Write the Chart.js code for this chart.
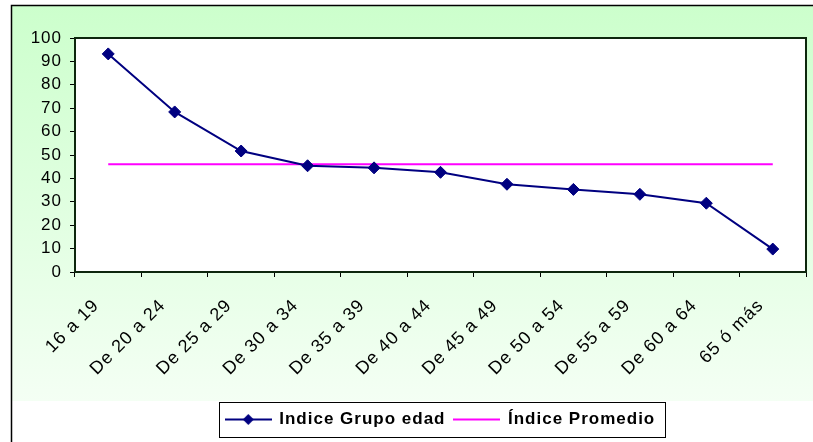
<!DOCTYPE html>
<html>
<head>
<meta charset="utf-8">
<script src="https://cdn.jsdelivr.net/npm/chart.js@4.4.0/dist/chart.umd.min.js"></script>
<style>
html,body{margin:0;padding:0;background:#fff;}
#wrap{width:813px;height:442px;position:relative;}
canvas{display:block;}
</style>
</head>
<body>
<div id="wrap"><canvas id="c" width="813" height="442"></canvas></div>
<script>
// ---- data ----
const categories = ['16 a 19', 'De 20 a 24', 'De 25 a 29', 'De 30 a 34', 'De 35 a 39', 'De 40 a 44', 'De 45 a 49', 'De 50 a 54', 'De 55 a 59', 'De 60 a 64', '65 ó más'];
const indiceGrupoEdad = [93.2, 68.4, 51.7, 45.4, 44.5, 42.6, 37.5, 35.3, 33.2, 29.4, 9.8];
const indicePromedio = [46.1, 46.1, 46.1, 46.1, 46.1, 46.1, 46.1, 46.1, 46.1, 46.1, 46.1];
const seriesNames = ['Indice Grupo edad', 'Índice Promedio'];
const yMin = 0, yMax = 100, yStep = 10;

const FONT = '"Liberation Sans", Arial, sans-serif';
const NAVY = '#000080';
const MAGENTA = '#FF00FF';

// legend samples (line with marker / plain line)
function makeSample(color, withMarker) {
  const c = document.createElement('canvas');
  c.width = 47; c.height = 13;
  const x = c.getContext('2d');
  x.strokeStyle = color; x.lineWidth = 2;
  x.beginPath(); x.moveTo(0, 6.5); x.lineTo(47, 6.5); x.stroke();
  if (withMarker) {
    x.fillStyle = color;
    x.beginPath(); x.moveTo(23.5, 1); x.lineTo(29, 6.5); x.lineTo(23.5, 12); x.lineTo(18, 6.5); x.closePath(); x.fill();
  }
  return c;
}
const samples = [makeSample(NAVY, true), makeSample(MAGENTA, false)];

const decoPlugin = {
  id: 'deco',
  beforeLayout(chart) { chart.ctx.letterSpacing = '1px'; },
  beforeDraw(chart) {
    const ctx = chart.ctx;
    ctx.letterSpacing = '1px';
    ctx.save();
    ctx.fillStyle = '#fff';
    ctx.fillRect(0, 0, chart.width, chart.height);
    const g = ctx.createLinearGradient(0, 6, 0, 401);
    g.addColorStop(0, '#CCFFCC');
    g.addColorStop(1, '#F4FFF4');
    ctx.fillStyle = g;
    ctx.fillRect(12, 6, chart.width - 12, 395);
    ctx.strokeStyle = '#000';
    ctx.lineWidth = 1.5;
    ctx.beginPath();
    ctx.moveTo(11.5, chart.height); ctx.lineTo(11.5, 5.5); ctx.lineTo(chart.width, 5.5);
    ctx.stroke();
    const a = chart.chartArea;
    ctx.fillStyle = '#fff';
    ctx.fillRect(a.left, a.top, a.right - a.left, a.bottom - a.top);
    ctx.restore();
  },
  afterDraw(chart) {
    const ctx = chart.ctx;
    const a = chart.chartArea;
    ctx.save();
    ctx.strokeStyle = '#0d260d';
    ctx.lineWidth = 2;
    ctx.strokeRect(a.left, a.top, a.right - a.left, a.bottom - a.top);
    const lg = chart.legend;
    if (lg && lg.legendHitBoxes && lg.legendHitBoxes.length) {
      const hb = lg.legendHitBoxes;
      const l = hb[0].left - 7;
      const last = hb[hb.length - 1];
      const r = last.left + last.width + 10;
      ctx.strokeStyle = '#000';
      ctx.lineWidth = 1;
      ctx.strokeRect(Math.round(l) + 0.5, lg.top + 0.5, Math.round(r - l), lg.height - 1);
    }
    ctx.restore();
  }
};

new Chart(document.getElementById('c'), {
  type: 'line',
  data: {
    labels: categories,
    datasets: [
      {
        label: seriesNames[0],
        data: indiceGrupoEdad,
        borderColor: NAVY,
        backgroundColor: NAVY,
        borderWidth: 2,
        pointStyle: 'rectRot',
        pointRadius: 6,
        pointBorderWidth: 1,
        pointBackgroundColor: NAVY,
        pointBorderColor: NAVY,
        tension: 0,
        fill: false
      },
      {
        label: seriesNames[1],
        data: indicePromedio,
        borderColor: MAGENTA,
        backgroundColor: MAGENTA,
        borderWidth: 2,
        pointRadius: 0,
        tension: 0,
        fill: false
      }
    ]
  },
  options: {
    responsive: false,
    animation: false,
    devicePixelRatio: 1,
    layout: { padding: { top: 38, left: 0, right: 5, bottom: 4 } },
    plugins: {
      tooltip: { enabled: false },
      legend: {
        position: 'bottom',
        fullSize: false,
        labels: {
          usePointStyle: true,
          pointStyleWidth: 45,
          boxHeight: 15,
          padding: 9,
          color: '#000',
          font: { family: FONT, size: 17, weight: 'bold' },
          generateLabels(chart) {
            return chart.data.datasets.map((ds, i) => ({
              text: ds.label,
              pointStyle: samples[i],
              fillStyle: ds.borderColor,
              strokeStyle: ds.borderColor,
              lineWidth: 1,
              hidden: false,
              datasetIndex: i,
              fontColor: '#000'
            }));
          }
        }
      }
    },
    scales: {
      x: {
        offset: true,
        grid: { display: true, offset: true, drawOnChartArea: false, drawTicks: true, tickLength: 5, color: '#000', lineWidth: 1 },
        border: { display: false },
        ticks: {
          color: '#000',
          font: { family: FONT, size: 18 },
          maxRotation: 45,
          minRotation: 45,
          autoSkip: false,
          padding: 18,
          labelOffset: -12
        },
        afterFit(scale) { scale.height = 130; }
      },
      y: {
        min: yMin,
        max: yMax,
        grid: { display: true, drawOnChartArea: false, drawTicks: true, tickLength: 5, color: '#000', lineWidth: 1 },
        border: { display: false },
        ticks: {
          stepSize: yStep,
          color: '#000',
          font: { family: FONT, size: 17 },
          padding: 8
        },
        afterFit(scale) { scale.width = 75; }
      }
    }
  },
  plugins: [decoPlugin]
});
</script>
</body>
</html>
